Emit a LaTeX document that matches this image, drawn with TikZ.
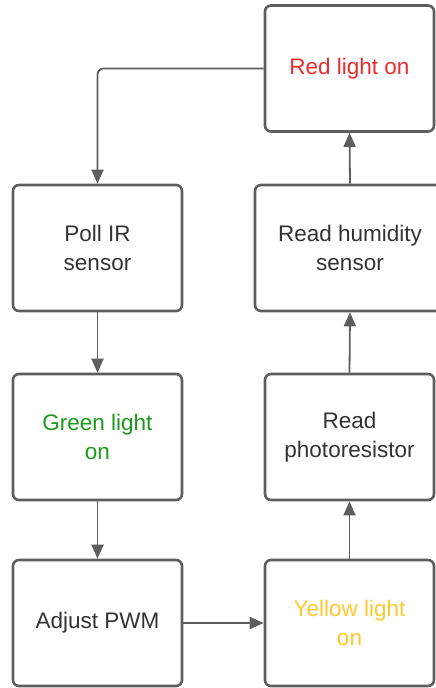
\documentclass[tikz,border=0pt]{standalone}
\usepackage{fontspec}
\setmainfont{Liberation Sans}
\usetikzlibrary{arrows.meta}
\definecolor{linegray}{HTML}{5E5E5E}
\definecolor{txtgray}{HTML}{333333}
\definecolor{redtxt}{HTML}{EE2A2A}
\definecolor{greentxt}{HTML}{1A9B1A}
\definecolor{yellowtxt}{HTML}{FFC82C}
\tikzset{
  stepbox/.style={draw=linegray, line width=2.6pt, rounded corners=6pt, fill=white,
    minimum width=169pt, minimum height=126pt, align=center, text=txtgray,
    font=\fontsize{22.5}{28.5}\selectfont, inner sep=0pt},
  conn/.style={draw=linegray, line width=1.8pt, -{Triangle[width=12pt,length=14pt]}},
}
\begin{document}
\begin{tikzpicture}[x=1pt,y=-1pt]
\useasboundingbox (0,0) rectangle (436,688);
\clip (0,0) rectangle (436,688);
\node[stepbox, text=redtxt] (red) at (349.5,68.5) {Red light on};
\node[stepbox] (poll) at (97.5,248) {Poll IR\\sensor};
\node[stepbox, minimum width=190pt] (hum) at (350,248) {Read humidity\\sensor};
\node[stepbox, text=greentxt] (green) at (97.5,437) {Green light\\on};
\node[stepbox] (photo) at (349.5,437) {Read\\photoresistor};
\node[stepbox] (pwm) at (97.5,623) {Adjust PWM};
\node[stepbox, text=yellowtxt] (yellow) at (349.5,623) {Yellow light\\on};
\draw[conn, rounded corners=6pt] (red.west) -| (poll.north);
\draw[conn] (poll.south) -- (green.north);
\draw[conn] (green.south) -- (pwm.north);
\draw[conn] (pwm.east) -- (yellow.west);
\draw[conn] (yellow.north) -- (photo.south);
\draw[conn] (photo.north) -- (hum.south);
\draw[conn] (hum.north) -- (red.south);
\end{tikzpicture}
\end{document}
